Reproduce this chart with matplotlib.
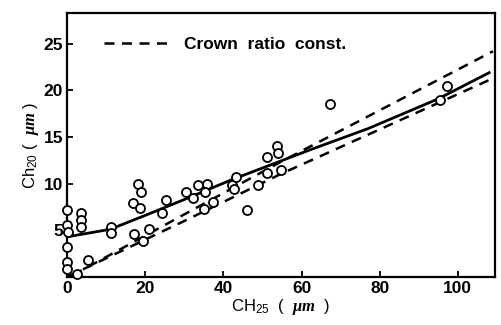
"""Ch20 vs CH25 scatter with the fitted curve and the constant crown ratio lines."""

import matplotlib
matplotlib.use("Agg")
import matplotlib.pyplot as plt

plt.rcParams["font.family"] = ["Liberation Sans", "DejaVu Sans"]
plt.rcParams["font.weight"] = "bold"
plt.rcParams["mathtext.fontset"] = "custom"
plt.rcParams["mathtext.rm"] = "Liberation Sans:weight=bold"
plt.rcParams["mathtext.bf"] = "Liberation Sans:weight=bold"
plt.rcParams["mathtext.it"] = "Liberation Serif:style=italic:weight=bold"
plt.rcParams["mathtext.default"] = "rm"

# measured points (CH25, Ch20) in micrometres
ch25 = [0, 0, 0.2, 0, 0, 0, 2.5, 5.3, 3.5, 3.5, 3.5, 11.3, 11.3,
        18.2, 18.8, 16.9, 18.6, 17.1, 19.3, 21.0, 24.2, 25.4, 30.4, 32.3,
        33.4, 35.7, 35.3, 35.0, 37.4, 42.1, 43.2, 42.7, 46.1,
        48.9, 51.1, 51.1, 53.6, 54.0, 54.7, 67.3, 95.3, 97.2]
ch20 = [7.2, 5.6, 4.8, 3.2, 1.6, 0.9, 0.3, 1.8, 6.8, 6.1, 5.4, 5.4, 4.7,
        10.0, 9.1, 7.9, 7.4, 4.6, 3.9, 5.1, 6.9, 8.2, 9.1, 8.5,
        9.9, 10.0, 9.1, 7.3, 8.0, 9.9, 10.7, 9.4, 7.2,
        9.9, 11.1, 12.9, 14.0, 13.3, 11.5, 18.5, 19.0, 20.5]

# fitted relation (solid)
fit_x = [0, 11, 20, 30, 42, 54.5, 62, 77, 95, 108]
fit_y = [4.3, 5.1, 6.6, 8.3, 10.4, 12.4, 13.6, 15.9, 19.1, 21.9]

# crown ratio constant lines (dashed)
upper_x = [1.5, 54.5, 109]
upper_y = [0.2, 12.3, 24.2]
lower_x = [0, 30, 54.5, 109]
lower_y = [0.0, 6.0, 11.0, 21.3]


def main():
    fig = plt.figure(figsize=(5.01, 3.25), dpi=100)
    ax = fig.add_axes([0.134, 0.148, 0.854, 0.812])

    ax.plot(upper_x, upper_y, color="k", lw=1.8, dashes=(4, 3))
    ax.plot(lower_x, lower_y, color="k", lw=1.8, dashes=(4, 3),
            label="Crown  ratio  const.")
    ax.plot(fit_x, fit_y, color="k", lw=2.0)
    ax.plot(ch25, ch20, "o", ms=6.5, mfc="white", mec="k", mew=1.3,
            clip_on=False, zorder=3)

    ax.set_xlim(0, 109.5)
    ax.set_ylim(0, 28.3)
    ax.set_xticks([0, 20, 40, 60, 80, 100])
    ax.set_yticks([5, 10, 15, 20, 25])
    ax.tick_params(direction="in", length=4, width=1.3, labelsize=12.5, pad=3)
    for s in ax.spines.values():
        s.set_linewidth(1.6)

    ax.set_xlabel(r"C$\mathregular{H_{25}}$  (  $\mathit{\mu m}$  )", fontsize=12, labelpad=1)
    ax.set_ylabel(r"Ch$\mathregular{_{20}}$ (  $\mathit{\mu m}$ )", fontsize=12, labelpad=2)

    ax.legend(loc="upper left", bbox_to_anchor=(0.05, 0.97), frameon=False,
              handlelength=3.8, handletextpad=0.8, fontsize=12.5)

    fig.savefig("out.png", dpi=100)


if __name__ == "__main__":
    main()
